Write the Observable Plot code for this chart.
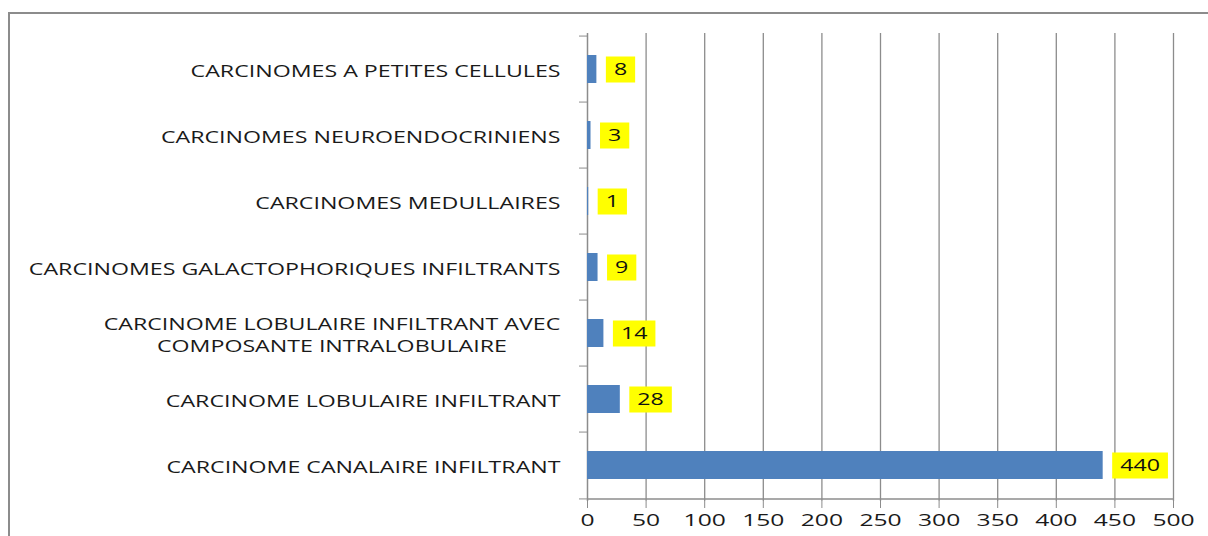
<!DOCTYPE html>
<html>
<head>
<meta charset="utf-8">
<script src="https://cdn.jsdelivr.net/npm/d3@7"></script>
<script src="https://cdn.jsdelivr.net/npm/@observablehq/plot@0.6"></script>
<style>
  html, body { margin: 0; padding: 0; background: #fff; overflow: hidden; }
  #wrap { position: relative; width: 1208px; height: 536px; }
  #border { position: absolute; left: 8px; top: 12px; width: 1400px; height: 800px;
            border: 2px solid #8c8c8c; pointer-events: none; z-index: 2; box-sizing: border-box; }
  #chart svg { display: block; }
</style>
</head>
<body>
<div id="wrap">
  <div id="chart"></div>
  <div id="border"></div>
</div>
<script>
// ---- data ----
const categories = [
  "CARCINOMES A PETITES CELLULES",
  "CARCINOMES NEUROENDOCRINIENS",
  "CARCINOMES MEDULLAIRES",
  "CARCINOMES GALACTOPHORIQUES INFILTRANTS",
  "CARCINOME LOBULAIRE INFILTRANT AVEC\nCOMPOSANTE INTRALOBULAIRE",
  "CARCINOME LOBULAIRE INFILTRANT",
  "CARCINOME CANALAIRE INFILTRANT"
];
const values = [8, 3, 1, 9, 14, 28, 440];
const xTicks = [0, 50, 100, 150, 200, 250, 300, 350, 400, 450, 500];

const data = categories.map((c, i) => ({category: c, value: values[i]}));

// ---- layout ----
const W = 1208, H = 536;
const mTop = 33, mBottom = 35, mLeft = 587, mRight = 35;
const step = (H - mTop - mBottom) / categories.length;
const gray = "#8c8c8c";
const font = "'Open Sans', sans-serif";
const SX = 1.45; // horizontal text stretch

const chart = Plot.plot({
  width: W,
  height: H,
  marginTop: mTop,
  marginBottom: mBottom,
  marginLeft: mLeft,
  marginRight: mRight,
  style: {fontFamily: font, background: "transparent"},
  x: {domain: [0, 500], ticks: xTicks, label: null},
  y: {domain: categories, paddingInner: 0.58, paddingOuter: 0.29, label: null},
  marks: [
    Plot.gridX(xTicks.slice(1), {stroke: gray, strokeOpacity: 1, strokeWidth: 1.3}),
    Plot.ruleX([0], {stroke: gray, strokeWidth: 1.5}),
    Plot.ruleY([categories[categories.length - 1]], {stroke: gray, strokeWidth: 1.5, dy: step / 2}),
    // band boundary ticks on the category axis
    Plot.axisY(categories, {tickSize: 8, text: null, label: null, stroke: gray, dy: -step / 2}),
    Plot.axisY([categories[categories.length - 1]], {tickSize: 8, text: null, label: null, stroke: gray, dy: step / 2}),
    Plot.axisY({tickSize: 0, tickPadding: 27, fontSize: 16, fill: "#1a1a1a", lineHeight: 1.375, label: null}),
    Plot.axisX(xTicks, {tickSize: 7, tickPadding: 5, fontSize: 17, fill: "#1a1a1a", stroke: gray, label: null}),
    Plot.barX(data, {x: "value", y: "category", fill: "#4f81bd"}),
    Plot.text(data, {x: "value", y: "category", text: d => String(d.value), textAnchor: "start",
                     dx: 17, fontSize: 16, fill: "#111", className: "vlabels"})
  ]
});

document.getElementById("chart").appendChild(chart);

// stretch text horizontally about its anchor
chart.querySelectorAll("text").forEach(el => {
  let t = el.getAttribute("transform") || "";
  const x = el.getAttribute("x");
  if (x !== null && !isNaN(+x) && +x !== 0) {
    t += ` translate(${+x},0)`;
    el.removeAttribute("x");
  }
  // center multi-line labels relative to each other
  const spans = el.querySelectorAll("tspan");
  let extra = "";
  if (spans.length > 1) {
    let maxW = 0;
    spans.forEach(s => { maxW = Math.max(maxW, s.getComputedTextLength()); });
    el.setAttribute("text-anchor", "middle");
    spans.forEach(s => s.setAttribute("text-anchor", "middle"));
    extra = ` translate(${-maxW / 2},0)`;
  }
  el.setAttribute("transform", t + ` scale(${SX},1)` + extra);
});

// yellow boxes behind value labels
chart.querySelectorAll(".vlabels text").forEach(el => {
  const bb = el.getBBox();
  const pad = 8 / SX;
  const r = document.createElementNS("http://www.w3.org/2000/svg", "rect");
  r.setAttribute("x", bb.x - pad);
  r.setAttribute("width", bb.width + 2 * pad);
  r.setAttribute("y", -13);
  r.setAttribute("height", 26);
  r.setAttribute("fill", "#ffff00");
  r.setAttribute("transform", el.getAttribute("transform"));
  el.parentNode.insertBefore(r, el);
});
</script>
</body>
</html>
